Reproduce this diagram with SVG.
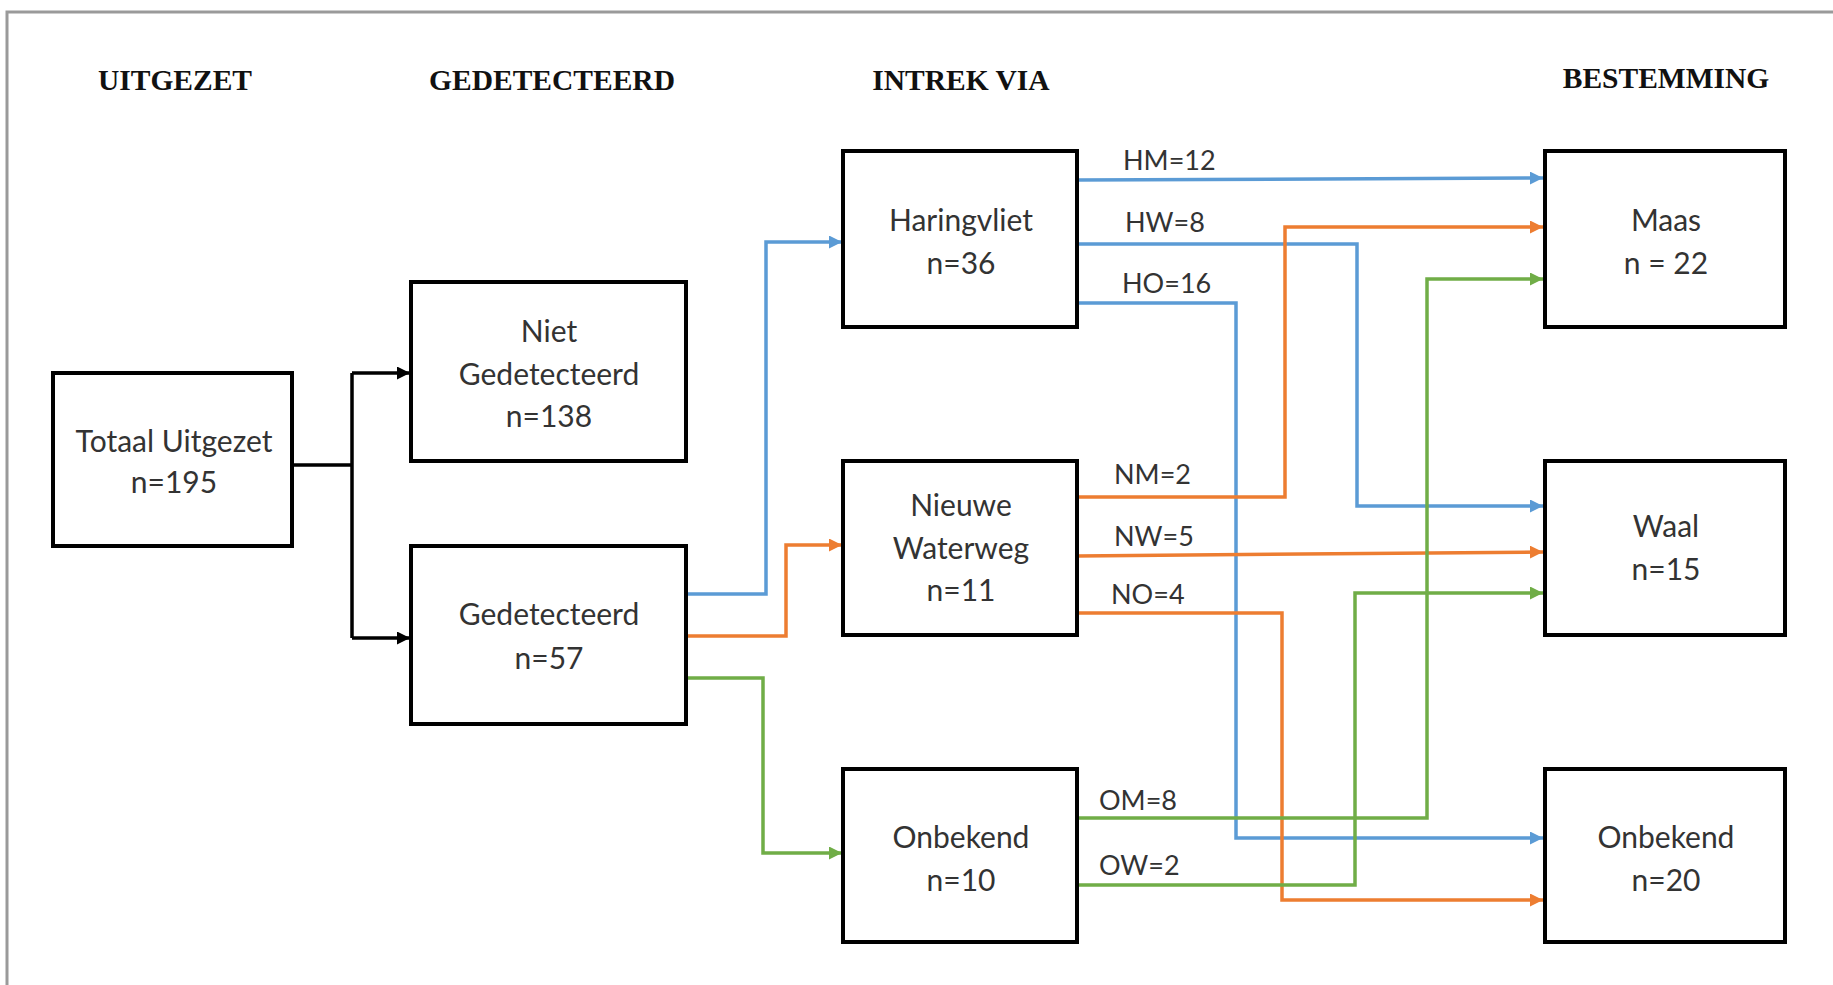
<svg xmlns="http://www.w3.org/2000/svg" width="1833" height="985" viewBox="0 0 1833 985">
<style>
.box{fill:#fff;stroke:#000;stroke-width:4}
.t{font-family:Lato,"Liberation Sans",sans-serif;font-size:30px;fill:#333;text-anchor:middle}
.lbl{font-family:Lato,"Liberation Sans",sans-serif;font-size:27px;fill:#333}
.hdr{font-family:"Liberation Serif",serif;font-weight:bold;font-size:29.5px;fill:#111;text-anchor:middle}
.c{fill:none;stroke-width:3.5}
.k{stroke:#000}
.b{stroke:#5B9BD5}
.o{stroke:#ED7D31}
.g{stroke:#70AD47}
</style>
<defs>
<marker id="ak" viewBox="0 0 10 10" refX="10" refY="5" markerWidth="13" markerHeight="13" markerUnits="userSpaceOnUse" orient="auto"><path d="M0,0 L10,5 L0,10 z" fill="#000"/></marker>
<marker id="ab" viewBox="0 0 10 10" refX="10" refY="5" markerWidth="13" markerHeight="13" markerUnits="userSpaceOnUse" orient="auto"><path d="M0,0 L10,5 L0,10 z" fill="#5B9BD5"/></marker>
<marker id="ao" viewBox="0 0 10 10" refX="10" refY="5" markerWidth="13" markerHeight="13" markerUnits="userSpaceOnUse" orient="auto"><path d="M0,0 L10,5 L0,10 z" fill="#ED7D31"/></marker>
<marker id="ag" viewBox="0 0 10 10" refX="10" refY="5" markerWidth="13" markerHeight="13" markerUnits="userSpaceOnUse" orient="auto"><path d="M0,0 L10,5 L0,10 z" fill="#70AD47"/></marker>
</defs>
<rect width="1833" height="985" fill="#fff"/>
<g id="frame">
<path d="M7,985 V12 H1833" fill="none" stroke="#9a9a9a" stroke-width="3"/>
</g>
<g id="headers">
<text class="hdr" x="175" y="90">UITGEZET</text>
<text class="hdr" x="552" y="90">GEDETECTEERD</text>
<text class="hdr" x="961" y="90">INTREK VIA</text>
<text class="hdr" x="1666" y="88">BESTEMMING</text>
</g>
<g id="connectors">
<path class="c k" d="M292,465 H352 M352,373 V638"/>
<path class="c k" d="M352,373 H410" marker-end="url(#ak)"/>
<path class="c k" d="M352,638 H410" marker-end="url(#ak)"/>
<path class="c b" d="M686,594 H766 V242 H842" marker-end="url(#ab)"/>
<path class="c o" d="M686,636 H786 V545 H842" marker-end="url(#ao)"/>
<path class="c g" d="M686,678 H763 V853 H842" marker-end="url(#ag)"/>
<path class="c b" d="M1077,180 L1543,178" marker-end="url(#ab)"/>
<path class="c b" d="M1077,244 H1357 V506 H1543" marker-end="url(#ab)"/>
<path class="c b" d="M1077,303 H1236 V838 H1543" marker-end="url(#ab)"/>
<path class="c o" d="M1077,497 H1285 V227 H1543" marker-end="url(#ao)"/>
<path class="c o" d="M1077,556 L1543,552" marker-end="url(#ao)"/>
<path class="c o" d="M1077,613 H1282 V900 H1543" marker-end="url(#ao)"/>
<path class="c g" d="M1077,818 H1427 V279 H1543" marker-end="url(#ag)"/>
<path class="c g" d="M1077,885 H1355 V593 H1543" marker-end="url(#ag)"/>
</g>
<g id="labels">
<text class="lbl" x="1123" y="170">HM=12</text>
<text class="lbl" x="1125" y="232">HW=8</text>
<text class="lbl" x="1122" y="293">HO=16</text>
<text class="lbl" x="1114" y="484">NM=2</text>
<text class="lbl" x="1114" y="546">NW=5</text>
<text class="lbl" x="1111" y="604">NO=4</text>
<text class="lbl" x="1099" y="810">OM=8</text>
<text class="lbl" x="1099" y="875">OW=2</text>
</g>
<g id="totaal">
<rect class="box" x="53" y="373" width="239" height="173"/>
<text class="t" x="174" y="452">Totaal Uitgezet</text>
<text class="t" x="174" y="493">n=195</text>
</g>
<g id="niet">
<rect class="box" x="411" y="282" width="275" height="179"/>
<text class="t" x="549" y="342">Niet</text>
<text class="t" x="549" y="385">Gedetecteerd</text>
<text class="t" x="549" y="427">n=138</text>
</g>
<g id="gedetecteerd">
<rect class="box" x="411" y="546" width="275" height="178"/>
<text class="t" x="549" y="625">Gedetecteerd</text>
<text class="t" x="549" y="669">n=57</text>
</g>
<g id="haringvliet">
<rect class="box" x="843" y="151" width="234" height="176"/>
<text class="t" x="961" y="231">Haringvliet</text>
<text class="t" x="961" y="274">n=36</text>
</g>
<g id="nieuwe">
<rect class="box" x="843" y="461" width="234" height="174"/>
<text class="t" x="961" y="516">Nieuwe</text>
<text class="t" x="961" y="559">Waterweg</text>
<text class="t" x="961" y="601">n=11</text>
</g>
<g id="onbekend1">
<rect class="box" x="843" y="769" width="234" height="173"/>
<text class="t" x="961" y="848">Onbekend</text>
<text class="t" x="961" y="891">n=10</text>
</g>
<g id="maas">
<rect class="box" x="1545" y="151" width="240" height="176"/>
<text class="t" x="1666" y="231">Maas</text>
<text class="t" x="1666" y="274">n = 22</text>
</g>
<g id="waal">
<rect class="box" x="1545" y="461" width="240" height="174"/>
<text class="t" x="1666" y="537">Waal</text>
<text class="t" x="1666" y="580">n=15</text>
</g>
<g id="onbekend2">
<rect class="box" x="1545" y="769" width="240" height="173"/>
<text class="t" x="1666" y="848">Onbekend</text>
<text class="t" x="1666" y="891">n=20</text>
</g>
</svg>
